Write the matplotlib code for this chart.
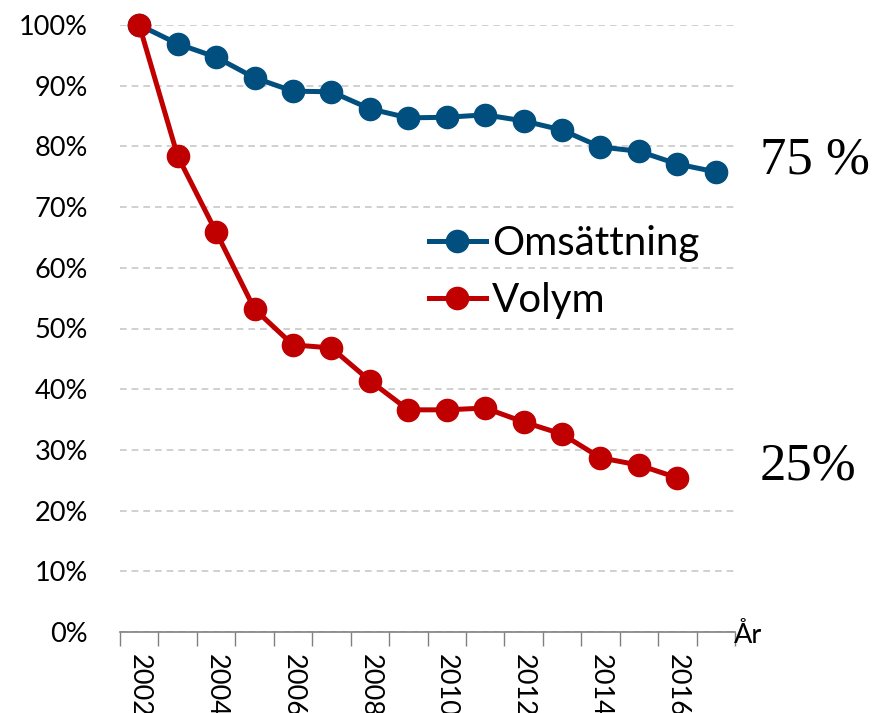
import matplotlib
matplotlib.use("Agg")
import matplotlib.pyplot as plt
from matplotlib.ticker import FixedLocator, FuncFormatter

years = list(range(2002, 2018))
omsattning = [100, 96.9, 94.7, 91.3, 89.1, 89.0, 86.2, 84.7, 84.8, 85.2, 84.2, 82.7, 79.9, 79.2, 77.1, 75.8]
volym_years = list(range(2002, 2017))
volym = [100, 78.4, 65.9, 53.2, 47.3, 46.8, 41.4, 36.6, 36.6, 36.9, 34.6, 32.6, 28.7, 27.5, 25.4]
year_labels = [str(y) if y % 2 == 0 else "" for y in years]

blue = "#004F7F"
red = "#C00000"
font = "Lato"
fs = 19.5

fig = plt.figure(figsize=(8.72, 7.13), dpi=100)
ax = fig.add_axes([120/872, 1-632/713, (735-120)/872, (632-25)/713])

xi = [years.index(y) for y in years]
xv = [years.index(y) for y in volym_years]
ax.plot(xi, omsattning, color=blue, lw=3.6, marker="o", ms=16, clip_on=False, zorder=3, label="Omsättning")
ax.plot(xv, volym, color=red, lw=3.6, marker="o", ms=16, clip_on=False, zorder=4, label="Volym")

ax.set_xlim(-0.5, len(years) - 0.5)
ax.set_ylim(0, 100)
ax.set_yticks(range(0, 101, 10))
ax.yaxis.set_major_formatter(FuncFormatter(lambda v, p: f"{int(v)}%"))
ax.grid(axis="y", color="#C8C8C8", ls=(0, (4, 3)), lw=1.2)
ax.set_axisbelow(True)

ax.xaxis.set_major_locator(FixedLocator(xi))
ax.set_xticklabels(year_labels, rotation=270, fontsize=fs, family=font)
ax.xaxis.set_minor_locator(FixedLocator([i - 0.5 for i in range(len(years) + 1)]))
ax.tick_params(axis="x", which="major", length=0, pad=16)
ax.tick_params(axis="x", which="minor", length=10, width=1, color="#808080", direction="out")
ax.tick_params(axis="y", length=0, labelsize=fs, pad=23)
for lab in ax.get_yticklabels():
    lab.set_family(font)
for lab in ax.get_xticklabels():
    lab.set_va("top")

for s in ["top", "right", "left"]:
    ax.spines[s].set_visible(False)
ax.spines["bottom"].set_color("#808080")
ax.spines["bottom"].set_linewidth(1.2)

fig.text(734/872, 1-643/713, "År", fontsize=fs, family=font, ha="left", va="baseline")
fig.text(760/872, 1-161/713, "75 %", fontsize=38, family="Liberation Serif", ha="left", va="center")
fig.text(760/872, 1-467/713, "25%", fontsize=38, family="Liberation Serif", ha="left", va="center")

leg = ax.legend(loc="center left", bbox_to_anchor=(393/872, 1-272/713), bbox_transform=fig.transFigure,
                frameon=False, prop={"family": font, "size": 29}, handlelength=1.4,
                handletextpad=0.15, labelspacing=0.5)

fig.savefig("out.png", dpi=100)
